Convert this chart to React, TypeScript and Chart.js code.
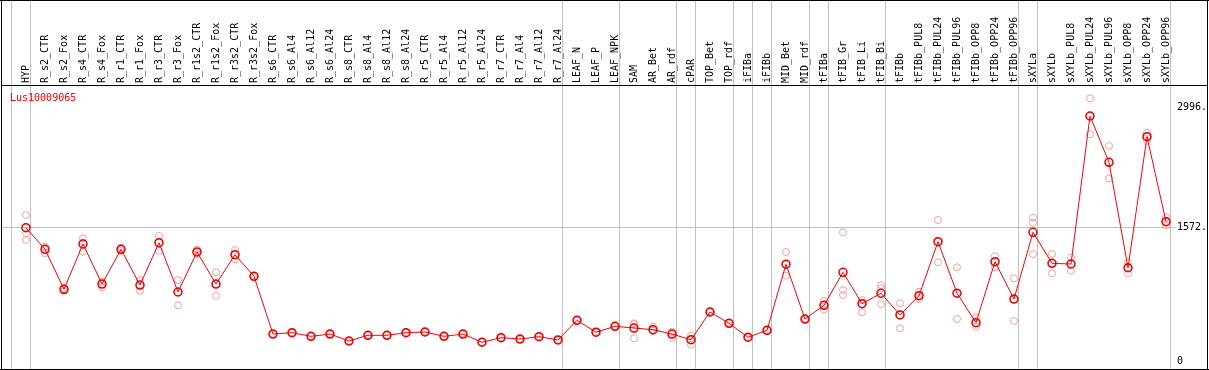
import React, { useEffect, useRef } from 'react';
import { Chart, registerables } from 'chart.js';

Chart.register(...registerables);

const geneName = 'Lus10009065';

const categories = [
  'HYP', 'R_s2_CTR', 'R_s2_Fox', 'R_s4_CTR', 'R_s4_Fox', 'R_r1_CTR', 'R_r1_Fox', 'R_r3_CTR', 'R_r3_Fox',
  'R_r1s2_CTR', 'R_r1s2_Fox', 'R_r3s2_CTR', 'R_r3s2_Fox', 'R_s6_CTR', 'R_s6_Al4', 'R_s6_Al12', 'R_s6_Al24',
  'R_s8_CTR', 'R_s8_Al4', 'R_s8_Al12', 'R_s8_Al24', 'R_r5_CTR', 'R_r5_Al4', 'R_r5_Al12', 'R_r5_Al24',
  'R_r7_CTR', 'R_r7_Al4', 'R_r7_Al12', 'R_r7_Al24', 'LEAF_N', 'LEAF_P', 'LEAF_NPK', 'SAM', 'AR_Bet', 'AR_rdf',
  'cPAR', 'TOP_Bet', 'TOP_rdf', 'iFIBa', 'iFIBb', 'MID_Bet', 'MID_rdf', 'tFIBa', 'tFIB_Gr', 'tFIB_Li', 'tFIB_Bi',
  'tFIBb', 'tFIBb_PUL8', 'tFIBb_PUL24', 'tFIBb_PUL96', 'tFIBb_OPP8', 'tFIBb_OPP24', 'tFIBb_OPP96',
  'sXYLa', 'sXYLb', 'sXYLb_PUL8', 'sXYLb_PUL24', 'sXYLb_PUL96', 'sXYLb_OPP8', 'sXYLb_OPP24', 'sXYLb_OPP96',
];

const meanValues = [
  1572, 1317, 846, 1380, 908, 1317, 896, 1395, 814, 1286, 908, 1254, 999,
  318, 334, 291, 318, 236, 303, 303, 334, 342, 291, 318, 221, 275, 259, 287, 248,
  480, 340, 409, 389, 369, 318, 251, 578, 445, 280, 362, 1141, 495, 657, 1046, 676, 799,
  543, 770, 1407, 799, 452, 1171, 731, 1518, 1152, 1144, 2890, 2344, 1100, 2646, 1643,
];

const rep1 = [
  1722, 1348, 861, 1447, 935, 1336, 955, 1474, 955, 1317, 1046, 1309, 1005,
  322, 338, 295, 322, 240, 307, 307, 338, 346, 295, 322, 225, 279, 263, 291, 252,
  484, 344, 413, 445, 405, 346, 298, 582, 449, 284, 366, 1286, 499, 711, 1518, 719, 896,
  681, 817, 1663, 1105, 515, 1238, 975, 1690, 1262, 1218, 3099, 2536, 1159, 2693, 1695,
];

const rep2 = [
  1427, 1270, 826, 1289, 869, 1301, 829, 1301, 657, 1262, 770, 1200, 993,
  314, 330, 287, 314, 232, 299, 299, 330, 338, 287, 314, 217, 271, 255, 283, 244,
  476, 336, 405, 268, 354, 271, 192, 574, 441, 276, 358, 1006, 491, 605, 778, 574, 669,
  386, 731, 1164, 495, 405, 1105, 472, 1262, 1034, 1065, 2674, 2155, 1034, 2595, 1596,
];

const rep3 = [
  1506, 1317, 846, 1400, 908, 1317, 896, 1395, 814, 1286, 908, 1254, 999,
  318, 334, 291, 318, 236, 303, 303, 334, 342, 291, 318, 221, 275, 259, 287, 248,
  480, 340, 409, 435, 364, 318, 251, 578, 445, 280, 362, 1141, 495, 657, 837, 676, 857,
  543, 770, 1407, 799, 452, 1171, 731, 1631, 1152, 1144, 2890, 2344, 1100, 2646, 1643,
];

// indices of the last category of each group (vertical separators drawn just after them)
const groupEnds = [-1, 0, 28, 31, 34, 35, 37, 38, 39, 41, 42, 45, 52, 53, 60];
const yTickValues = [0, 1572, 2996];
const refLineValue = 1572;

const FONT_FAMILY = '"DejaVu Sans Mono", "Liberation Mono", monospace';
const X_MIN = -24 / 19;
const X_MAX = X_MIN + 1205 / 19;
const Y_MIN = -94.4;
const Y_MAX = 3255.5;

const framePlugin = {
  id: 'framePlugin',
  beforeDraw(chart: any) {
    const { ctx, chartArea, scales } = chart;
    const xs = scales.x;
    ctx.save();
    ctx.fillStyle = '#c0c0c0';
    groupEnds.forEach((g) => {
      const px = Math.round(xs.getPixelForValue(g + 0.21));
      ctx.fillRect(px, 0, 1, chartArea.bottom);
    });
    ctx.restore();
  },
  afterDraw(chart: any) {
    const { ctx, chartArea, width, height } = chart;
    ctx.save();
    ctx.fillStyle = '#000';
    ctx.fillRect(0, 0, width, 1);
    ctx.fillRect(1, 0, 1, height);
    ctx.fillRect(width - 2, 0, 1, height);
    ctx.fillRect(0, height - 1, width, 1);
    ctx.fillStyle = '#ff0000';
    ctx.font = '10px ' + FONT_FAMILY;
    ctx.textAlign = 'left';
    ctx.textBaseline = 'alphabetic';
    ctx.fillText(geneName, chartArea.left + 8, chartArea.top + 16);
    ctx.restore();
  },
};

export default function App() {
  const canvasRef = useRef<HTMLCanvasElement | null>(null);

  useEffect(() => {
    if (!canvasRef.current) return;
    const toPoints = (arr: number[]) => arr.map((v, i) => ({ x: i, y: v }));
    const repStyle = {
      type: 'scatter' as const,
      showLine: false,
      pointRadius: 3.5,
      pointBorderWidth: 1,
      pointBorderColor: '#f2a0a0',
      pointBackgroundColor: 'rgba(0,0,0,0)',
      order: 2,
    };
    const chart = new Chart(canvasRef.current, {
      type: 'scatter',
      data: {
        datasets: [
          { ...repStyle, data: toPoints(rep1) },
          { ...repStyle, data: toPoints(rep2) },
          { ...repStyle, data: toPoints(rep3) },
          {
            type: 'line',
            data: toPoints(meanValues),
            borderColor: '#ff0000',
            borderWidth: 1,
            tension: 0,
            pointRadius: 4,
            pointBorderWidth: 1.5,
            pointBorderColor: '#e80000',
            pointBackgroundColor: 'rgba(0,0,0,0)',
            order: 0,
          } as any,
        ],
      },
      plugins: [framePlugin],
      options: {
        animation: false,
        responsive: false,
        devicePixelRatio: 1,
        layout: { autoPadding: false, padding: { left: 2, right: 2, top: 0, bottom: 1 } },
        plugins: { legend: { display: false }, tooltip: { enabled: false }, title: { display: false } },
        scales: {
          x: {
            type: 'linear',
            position: 'bottom',
            min: X_MIN,
            max: X_MAX,
            display: false,
          },
          xTop: {
            type: 'linear',
            axis: 'x',
            position: 'top',
            min: X_MIN,
            max: X_MAX,
            afterBuildTicks: (scale: any) => {
              scale.ticks = categories.map((_, i) => ({ value: i }));
            },
            afterFit: (scale: any) => {
              scale.height = 85;
              scale.paddingLeft = 0;
              scale.paddingRight = 0;
              scale.paddingTop = 0;
              scale.paddingBottom = 0;
            },
            ticks: {
              autoSkip: false,
              minRotation: 90,
              maxRotation: 90,
              padding: 2,
              labelOffset: 12,
              color: '#000',
              font: { family: FONT_FAMILY, size: 10 },
              callback: (value: any) => categories[Math.round(Number(value))] ?? '',
            },
            grid: { display: false, drawTicks: false },
            border: { display: true, color: '#000', width: 1 },
          } as any,
          y: {
            type: 'linear',
            position: 'right',
            min: Y_MIN,
            max: Y_MAX,
            afterBuildTicks: (scale: any) => {
              scale.ticks = yTickValues.map((v) => ({ value: v }));
            },
            afterFit: (scale: any) => {
              scale.width = 0;
              scale.paddingLeft = 0;
              scale.paddingRight = 0;
              scale.paddingTop = 0;
              scale.paddingBottom = 0;
            },
            ticks: {
              mirror: true,
              crossAlign: 'far',
              padding: 0,
              color: '#000',
              font: { family: FONT_FAMILY, size: 10 },
              showLabelBackdrop: true,
              backdropColor: '#ffffff',
              backdropPadding: 1,
              callback: (value: any) => (Number(value) === 0 ? '0' : value + '.'),
            },
            grid: {
              drawTicks: false,
              color: (c: any) => (c.tick && c.tick.value === refLineValue ? '#c0c0c0' : 'rgba(0,0,0,0)'),
            },
            border: { display: false },
          } as any,
        },
      },
    });
    return () => chart.destroy();
  }, []);

  return (
    <div style={{ position: 'absolute', left: 0, top: 0, width: 1209, height: 370, background: '#fff' }}>
      <canvas ref={canvasRef} width={1209} height={370} style={{ display: 'block', width: 1209, height: 370 }} />
    </div>
  );
}
